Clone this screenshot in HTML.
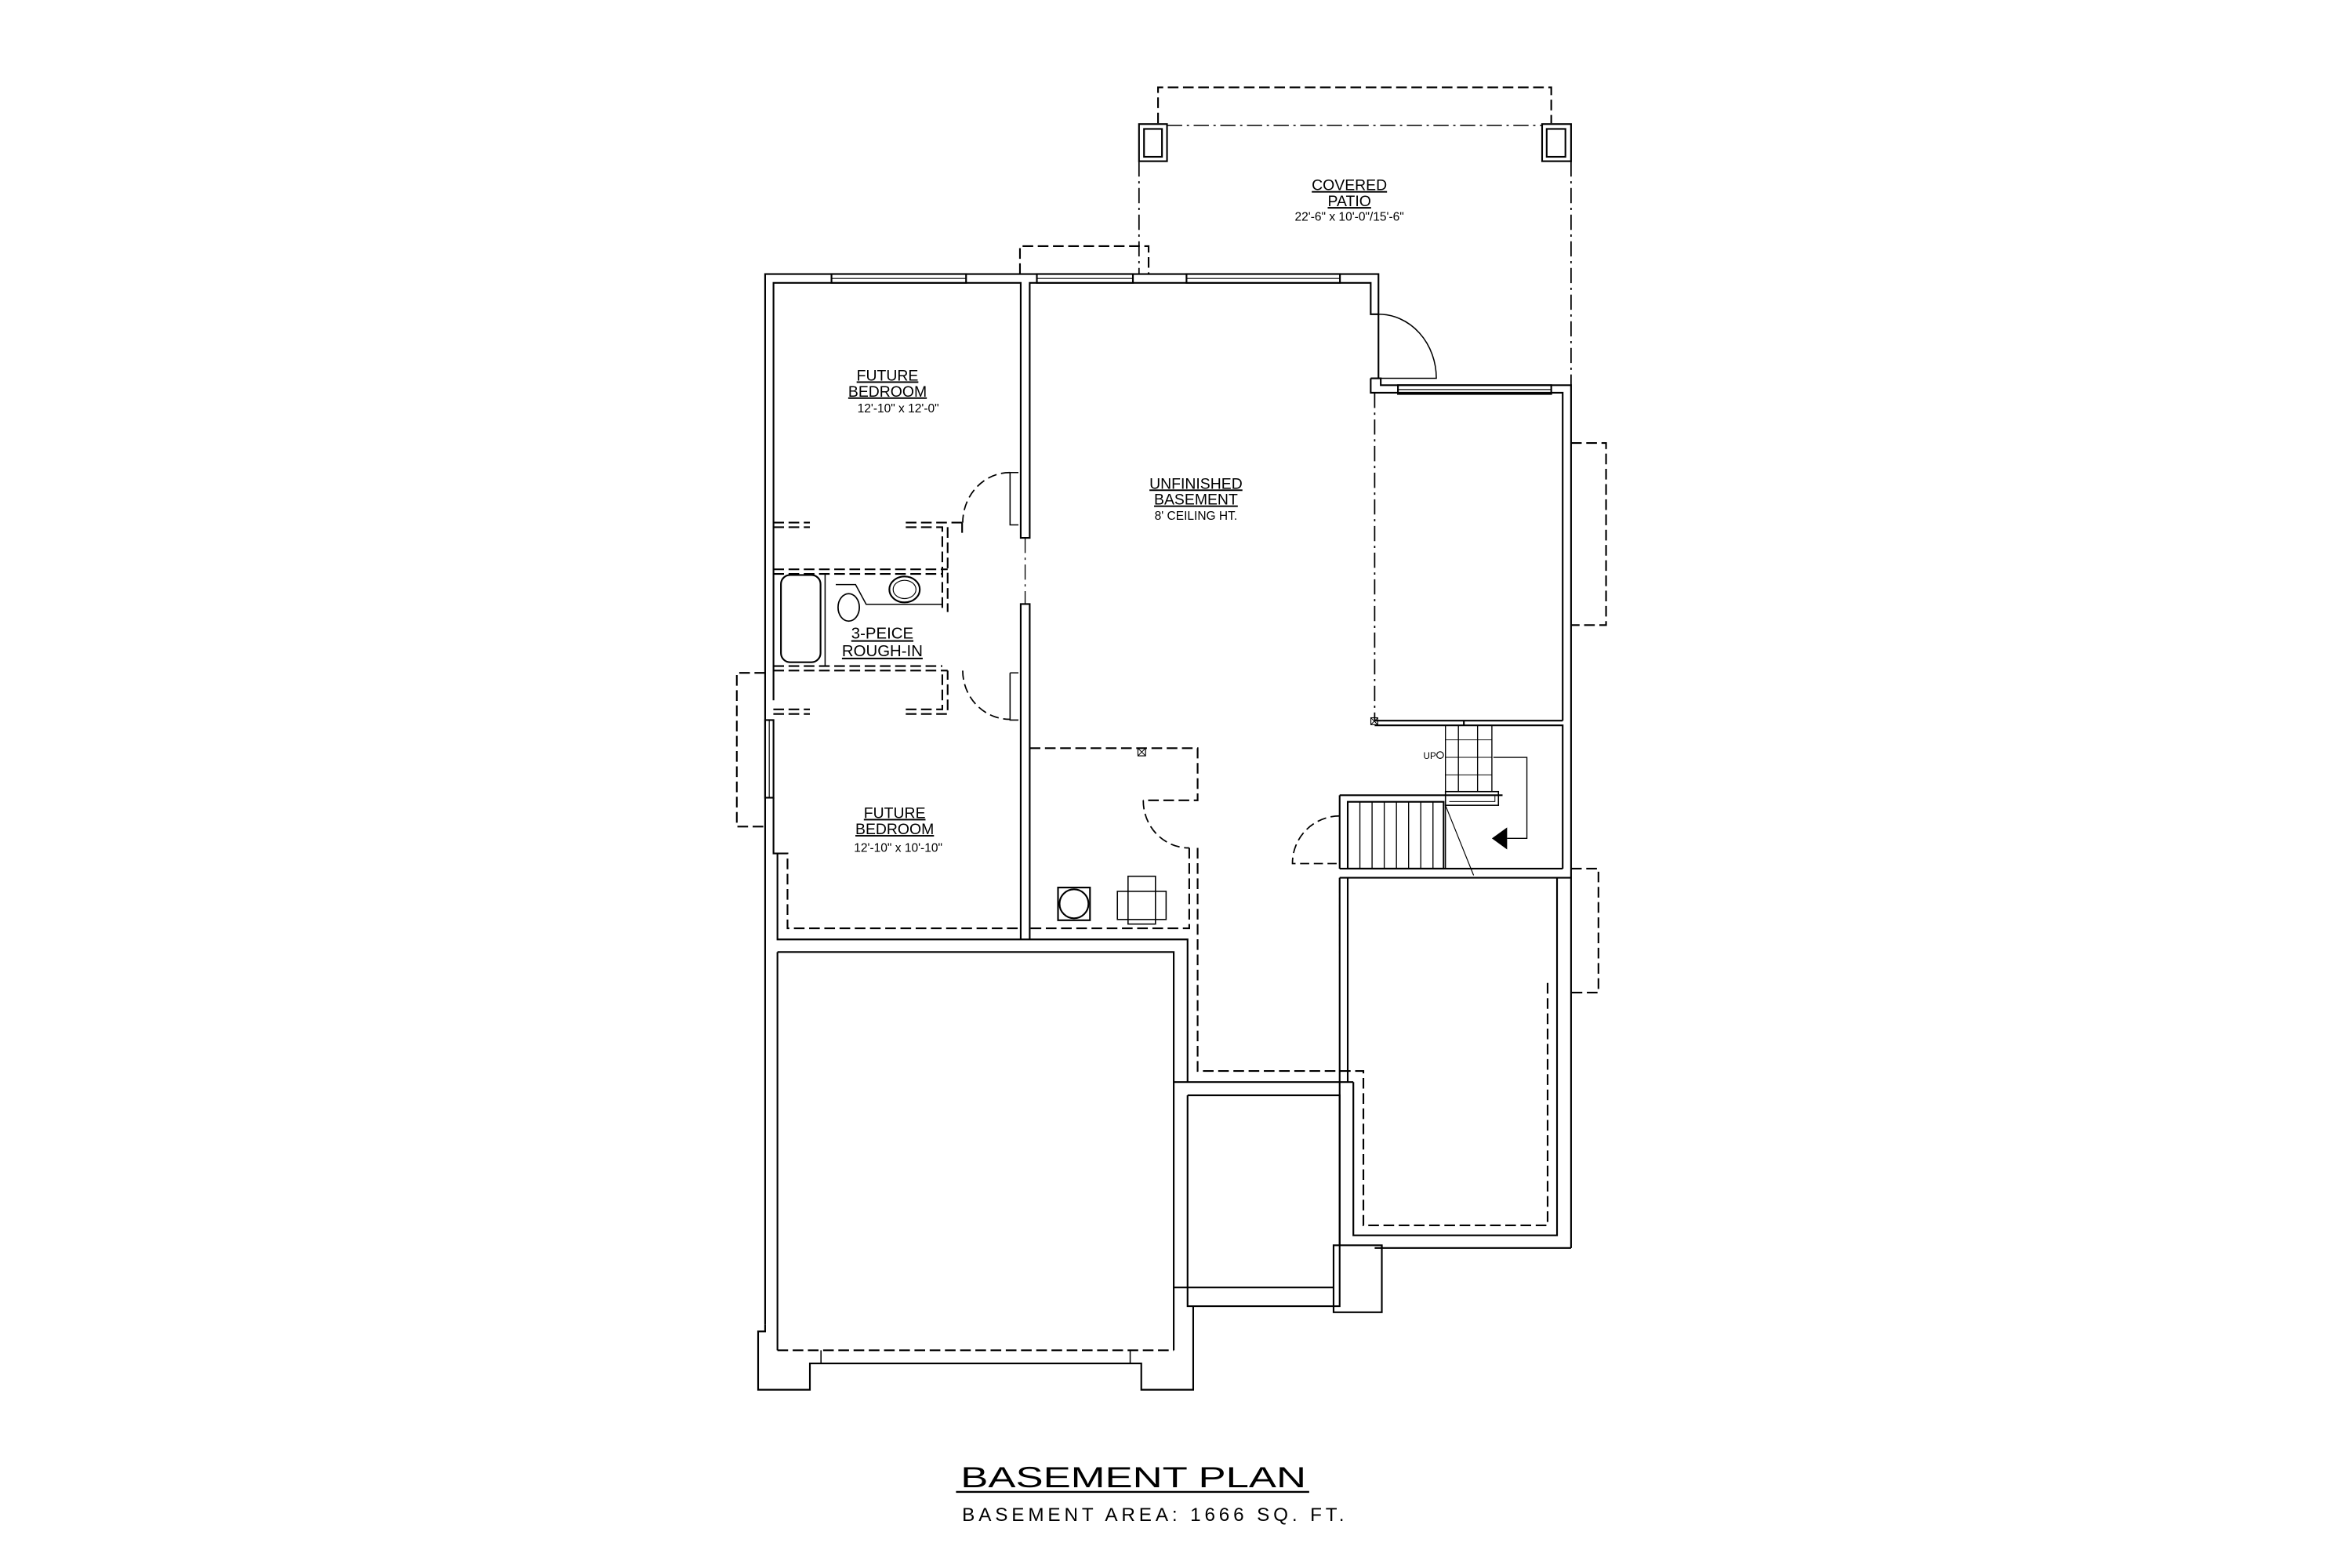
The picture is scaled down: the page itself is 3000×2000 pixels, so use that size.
<!DOCTYPE html>
<html><head><meta charset="utf-8"><style>
html,body{margin:0;padding:0;background:#fff;}
svg{display:block;}
text{font-family:"Liberation Sans",sans-serif;fill:#000;}
</style></head><body>
<svg width="3000" height="2000" viewBox="0 0 1545 1030" xmlns="http://www.w3.org/2000/svg">
<rect width="1545" height="1030" fill="#fff"/>
<g fill="none" stroke="#000" stroke-width="1.1" stroke-linejoin="miter">
<!-- Patio -->
<path d="M760.7,81 V57.4 H1019 V81" stroke-dasharray="7 3"/>
<rect x="748.2" y="81.5" width="18.4" height="24.4"/>
<rect x="751.5" y="84.7" width="11.8" height="18.3"/>
<rect x="1013" y="81.5" width="19" height="24.4"/>
<rect x="1016" y="84.7" width="12.3" height="18.3"/>
<path d="M766.6,82.4 H1013" stroke-dasharray="10 3 1.5 3" stroke-width="0.8"/>
<path d="M748.2,106 V180" stroke-dasharray="10 3 1.5 3" stroke-width="0.9"/>
<path d="M1032,106 V253" stroke-dasharray="10 3 1.5 3" stroke-width="0.9"/>
<path d="M670,180 V161.7 H754.5 V180" stroke-dasharray="7 3"/>

<!-- top wall -->
<path d="M502.6,870 V180 H905.5 V206.4 H900.4 V185.8 H676.4 V353.3 H670.5 V185.8 H508.1 V460"/>
<!-- windows top -->
<g fill="#fff">
<rect x="546.2" y="180" width="88.4" height="5.8"/>
<rect x="681.1" y="180" width="63.1" height="5.8"/>
<rect x="779.4" y="180" width="100.8" height="5.8"/>
<rect x="918.3" y="253" width="100.7" height="5.8"/>
</g>
<path d="M546.2,182.9 H634.6 M681.1,182.9 H744.2 M779.4,182.9 H880.2 M918.3,255.9 H1019" stroke-width="0.6"/>
<!-- rear door -->
<path d="M905.5,206.4 V248.5"/>
<path d="M905.5,206.4 A38,42 0 0 1 943.5,248.5 H905.5" stroke-width="0.8"/>
<path d="M900.4,248.5 H907 V253 H1032 V819.8 M900.4,248.5 V258 H1026.5 V473.4"/>
<path d="M903,258 V473.4" stroke-dasharray="10 3 1.5 3" stroke-width="0.9"/>
<rect x="900.5" y="471.5" width="4.5" height="4.5" stroke-width="0.6"/>
<path d="M900.5,471.5 l4.5,4.5 M905,471.5 l-4.5,4.5" stroke-width="0.5"/>
<path d="M903,473.4 H1026.5 M903,476.5 H961.6 M961.6,476.5 V473.4 M961.6,476.5 H1026.5 V570.6"/>
<path d="M1032,291 H1055 V410.6 H1032" stroke-dasharray="7 3"/>
<path d="M1032,570.6 H1050 V652 H1032" stroke-dasharray="7 3"/>

<!-- interior wall lower -->
<path d="M670.5,617.1 V396.8 H676.4 V617.1"/>
<path d="M673.4,353.3 V396.8" stroke-dasharray="10 3 1.5 3" stroke-width="0.7"/>

<!-- bedroom 1 / bath dashed -->
<path d="M508,343.3 H532 M595,343.3 H632" stroke-dasharray="7 3"/>
<path d="M508,346.3 H532 M595,346.3 H619 V402 M632,343.3 V350 M622.5,346.3 V402" stroke-dasharray="7 3"/>
<path d="M663.5,310.4 V344.8 H669 M663.5,310.4 H669" stroke-width="0.8"/>
<path d="M663.5,310.4 A31,33 0 0 0 632.4,343.3" stroke-dasharray="6 3" stroke-width="0.9"/>
<path d="M508,374 H622.5 M508,377 H619 M508,440.5 H622.5 M508,437.5 H619" stroke-dasharray="7 3"/>
<rect x="513" y="377.7" width="26" height="57.3" rx="6"/>
<path d="M542,377 V437.5" stroke-width="0.8"/>
<path d="M549,384 H562 L569,397 H619" stroke-width="0.8"/>
<ellipse cx="557.5" cy="399" rx="7" ry="9" stroke-width="0.9"/>
<ellipse cx="594.2" cy="387.2" rx="10" ry="8.5"/>
<ellipse cx="594.2" cy="387.2" rx="7.5" ry="6" stroke-width="0.6"/>
<path d="M663.5,442 V473 H669 M663.5,442 H669" stroke-width="0.8"/>
<path d="M632.4,440.5 A31,32 0 0 0 663.5,472.5" stroke-dasharray="6 3" stroke-width="0.9"/>
<path d="M508,466 H532 M595,466 H619 V440.5 M508,469 H532 M595,469 H622.5 V440.5" stroke-dasharray="7 3"/>

<!-- left window bedroom2 -->
<rect x="502.6" y="473" width="5.5" height="51" fill="#fff"/>
<path d="M505.3,473 V524" stroke-width="0.6"/>
<path d="M502.6,442 H484 V543 H502.6" stroke-dasharray="7 3"/>
<path d="M508.1,524 V560.6 H510.7 V617.1 H780.1 V710.8"/>
<path d="M510.7,560.6 H517.3 V609.8 H670.5" stroke-dasharray="7 3"/>

<!-- mech room -->
<path d="M676.4,491.5 H786.7 V525.7 H751" stroke-dasharray="7 3"/>
<path d="M751,525.7 A30,31 0 0 0 781.2,557" stroke-dasharray="6 3" stroke-width="0.9"/>
<path d="M781.2,557 V609.8 H676.4 M786.7,557 V703.5 H895.6 V804.9 H1016.6 V645" stroke-dasharray="7 3"/>
<rect x="747.5" y="491.5" width="5" height="5" stroke-width="0.6"/>
<path d="M747.5,491.5 l5,5 M752.5,491.5 l-5,5" stroke-width="0.5"/>
<rect x="695" y="583" width="21" height="21.5"/>
<circle cx="705.5" cy="593.7" r="9.5"/>
<rect x="741" y="575.6" width="18" height="31.4" stroke-width="0.8"/>
<rect x="734" y="585.5" width="32" height="18.5" stroke-width="0.8"/>

<!-- garage -->
<path d="M510.7,625.4 H771 V887 M510.7,625.4 V887"/>
<path d="M510.7,887 H771" stroke-dasharray="7 3"/>
<path d="M502.6,870 V874.6 H498 V912.9 H532 V895.6 H749.7 V912.9 H783.8 V858"/>
<path d="M539.3,895.6 V887 M742.4,895.6 V887" stroke-width="0.8"/>
<path d="M771,710.8 H889 M780.1,719.5 H880 V858 H780.1 V719.5 M771,845.7 H876 M780,858 H876"/>
<rect x="876" y="818" width="31.7" height="44"/>

<!-- right lower room -->
<path d="M880,576.6 V818 M885.3,576.6 V627" />
<path d="M880,576.6 V627 M885.3,576.6 V627" stroke-dasharray="10 3 1.5 3" stroke-width="0.8"/>
<path d="M885.3,627 V710.8 M889,710.8 V811.5 H1022.8 V576.6 M903,819.8 H1032 M907.7,819.8 V818"/>

<!-- stairs -->
<path d="M880,570.6 H1026.5 M880,576.6 H1032"/>
<path d="M880,522.4 H987 M880,522.4 V570.6"/>
<rect x="885.3" y="526.7" width="63" height="43.9"/>
<path d="M893.3,526.7 V570.6 M901.3,526.7 V570.6 M909.3,526.7 V570.6 M917.3,526.7 V570.6 M925.3,526.7 V570.6 M933.3,526.7 V570.6 M941.3,526.7 V570.6" stroke-width="0.7"/>
<path d="M949.5,476.5 V570.6 M958,476.5 V520 M970.6,476.5 V520 M980,476.5 V520" stroke-width="0.7"/>
<path d="M949.5,486 H980 M949.5,497.5 H980 M949.5,509 H980" stroke-width="0.5"/>
<rect x="949.5" y="520" width="34.8" height="9" stroke-width="0.8"/>
<path d="M952,522.5 H982 V526.5 H952" stroke-width="0.5"/>
<path d="M981,497.5 H1003 V550.7 H990" stroke-width="0.7"/>
<path d="M949.5,529 L968,575" stroke-width="0.6"/>
<path d="M880,536 A31,31 0 0 0 849,567.3 H880" stroke-dasharray="6 3" stroke-width="0.9"/>
</g>
<polygon points="980,550.7 990,543.5 990,558" fill="#000"/>
<circle cx="946" cy="496" r="2.2" fill="none" stroke="#000" stroke-width="0.6"/>
<text x="935" y="498.5" font-size="6">UP</text>

<!-- labels -->
<g text-anchor="middle" text-decoration="underline">
<text x="886.4" y="125" font-size="10">COVERED</text>
<text x="886.4" y="135.5" font-size="10">PATIO</text>
<text x="583" y="250" font-size="10">FUTURE</text>
<text x="583" y="260.5" font-size="10">BEDROOM</text>
<text x="785.6" y="321" font-size="10">UNFINISHED</text>
<text x="785.6" y="331.5" font-size="10">BASEMENT</text>
<text x="579.6" y="419.5" font-size="10.5">3-PEICE</text>
<text x="579.6" y="431" font-size="10.5">ROUGH-IN</text>
<text x="587.7" y="537.4" font-size="10">FUTURE</text>
<text x="587.7" y="548" font-size="10">BEDROOM</text>
</g>
<g text-anchor="middle">
<text x="886.4" y="145" font-size="8">22'-6" x 10'-0"/15'-6"</text>
<text x="590" y="271" font-size="8">12'-10"  x 12'-0"</text>
<text x="785.6" y="341.5" font-size="8">8' CEILING HT.</text>
<text x="590" y="559.5" font-size="8">12'-10"  x 10'-10"</text>
</g>
<text x="631" y="977" font-size="19" textLength="227" lengthAdjust="spacingAndGlyphs" font-weight="normal">BASEMENT  PLAN</text>
<line x1="628" y1="980" x2="860" y2="980" stroke="#000" stroke-width="1.2"/>
<text x="632" y="999" font-size="12.5" textLength="251" lengthAdjust="spacing">BASEMENT AREA: 1666 SQ. FT.</text>
</svg>
</body></html>
